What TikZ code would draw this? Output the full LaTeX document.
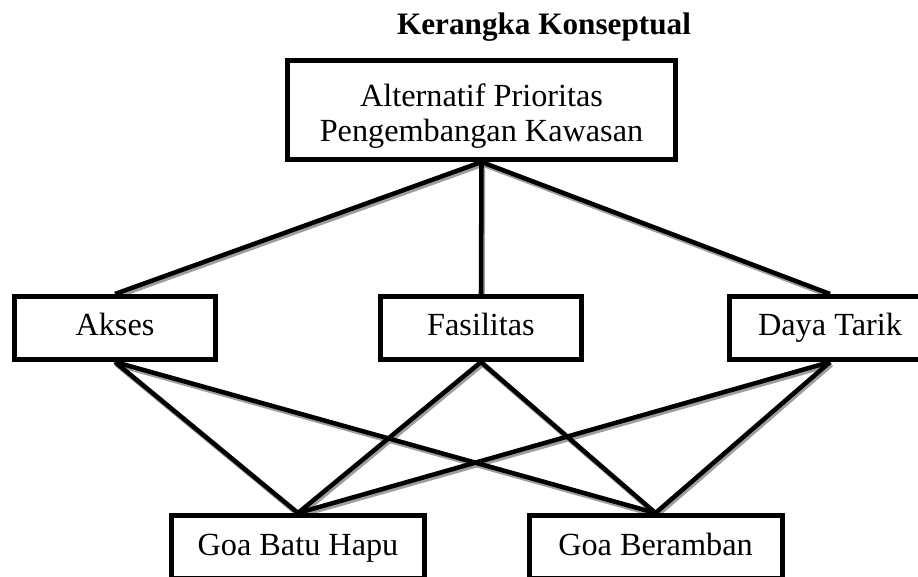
\documentclass[tikz,border=0pt]{standalone}
\usepackage{fontspec}
\setmainfont{Liberation Serif}
\pgfdeclarelayer{background}
\pgfsetlayers{background,main}
\begin{document}
\begin{tikzpicture}[x=0.75pt,y=-0.75pt,
  txt/.style={font=\fontsize{24.2}{26.3}\selectfont},
  box/.style={draw=black, line width=3.75pt, fill=white, rectangle, inner sep=0pt, txt},
  smallbox/.style={box, minimum width=150.75pt, minimum height=47.25pt, text height=16.8pt, text depth=4.8pt},
  widebox/.style={box, minimum width=189.75pt, minimum height=47.25pt, text height=16.8pt, text depth=4.8pt},
  link/.style={line width=3.4pt, black},
  shadowlink/.style={line width=3.4pt, black!38, transform canvas={shift={(1.1pt,-1.9pt)}}}]
\useasboundingbox (0,0) rectangle (918,577);
\node[txt, font=\fontsize{23.4}{26}\selectfont\bfseries, anchor=base] (title) at (544,35) {Kerangka Konseptual};
\node[box, minimum width=291pt, minimum height=74.25pt] (top) at (481.5,110) {};
\node[txt, align=center, inner sep=0pt] (toplabel) at (481.5,116.5) {Alternatif Prioritas\\Pengembangan Kawasan};
\node[smallbox] (akses) at (115,328) {Akses};
\node[smallbox] (fas) at (481,328) {Fasilitas};
\node[smallbox] (daya) at (830,328) {Daya Tarik};
\node[widebox] (gbh) at (298,547) {Goa Batu Hapu};
\node[widebox] (gb) at (655.5,547) {Goa Beramban};
\begin{pgfonlayer}{background}
  \foreach \a/\b in {top/akses,top/fas,top/daya,akses/gbh,akses/gb,fas/gbh,fas/gb,daya/gbh,daya/gb}{
    \draw[shadowlink] (\a.south) -- (\b.north);
  }
  \foreach \a/\b in {top/akses,top/fas,top/daya,akses/gbh,akses/gb,fas/gbh,fas/gb,daya/gbh,daya/gb}{
    \draw[link] (\a.south) -- (\b.north);
  }
\end{pgfonlayer}
\end{tikzpicture}
\end{document}
